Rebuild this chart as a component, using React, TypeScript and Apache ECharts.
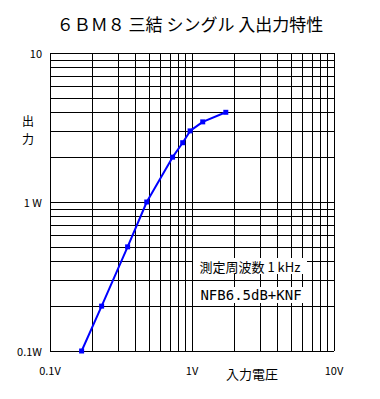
import React, { useEffect, useRef } from "react";
import * as echarts from "echarts";

const inputVolts = [0.167, 0.231, 0.352, 0.48, 0.73, 0.86, 0.97, 1.19, 1.73];
const outputWatts = [0.1, 0.2, 0.5, 1.0, 2.0, 2.5, 3.0, 3.45, 4.0];
const gridValues = [0.1, 0.2, 0.3, 0.4, 0.5, 0.6, 0.7, 0.8, 0.9, 1, 2, 3, 4, 5, 6, 7, 8, 9, 10];
const xTickLabels: Record<string, string> = { "0.1": "0.1V", "1": "1V", "10": "10V" };
const yTickLabels: Record<string, string> = { "0.1": "0.1W", "1": "1 W", "10": "10" };
const titleText = "６ＢＭ８ 三結 シングル 入出力特性";
const xName = "入力電圧";
const yNameChars = ["出", "力"];
const note1 = "測定周波数 1 kHz";
const note2 = "NFB6.5dB+KNF";

const FONT = '"Noto Sans CJK JP", "Noto Sans", sans-serif';

export default function App() {
  const ref = useRef<HTMLDivElement>(null);
  useEffect(() => {
    if (!ref.current) return;
    const chart = echarts.init(ref.current, null, { renderer: "svg" });
    const lineStyle = { color: "#000", width: 1, type: "solid" as const };
    chart.setOption({
      animation: false,
      backgroundColor: "#fff",
      textStyle: { fontFamily: FONT },
      title: {
        text: titleText,
        left: "center",
        top: 10,
        textStyle: { fontSize: 17, fontWeight: "normal", color: "#000", fontFamily: FONT },
      },
      grid: { left: 50, top: 53, right: 46, bottom: 48 },
      xAxis: {
        type: "log",
        logBase: 10,
        min: 0.1,
        max: 10,
        axisLine: { show: false },
        axisTick: { show: false },
        splitLine: { show: false },
        axisLabel: {
          margin: 13,
          fontSize: 11,
          color: "#000",
          fontFamily: FONT,
          formatter: (v: number) => xTickLabels[String(+v.toPrecision(3))] ?? "",
        },
      },
      yAxis: {
        type: "log",
        logBase: 10,
        min: 0.1,
        max: 10,
        axisLine: { show: false },
        axisTick: { show: false },
        splitLine: { show: false },
        axisLabel: {
          margin: 8,
          fontSize: 11,
          color: "#000",
          fontFamily: FONT,
          formatter: (v: number) => yTickLabels[String(+v.toPrecision(3))] ?? "",
        },
      },
      series: [
        {
          type: "line",
          data: [[1, 1]],
          symbol: "none",
          lineStyle: { opacity: 0 },
          silent: true,
          z: 1,
          markLine: {
            silent: true,
            symbol: ["none", "none"],
            label: { show: false },
            lineStyle,
            data: [
              ...gridValues.map((v) => ({ xAxis: v })),
              ...gridValues.map((v) => ({ yAxis: v })),
            ],
          },
        },
        {
          type: "line",
          data: inputVolts.map((x, i) => [x, outputWatts[i]]),
          symbol: "rect",
          symbolSize: 5,
          itemStyle: { color: "#0000ff" },
          lineStyle: { color: "#0000ff", width: 2 },
          z: 5,
        },
      ],
      graphic: [
        {
          type: "text",
          z: 100,
          style: { text: xName, x: 252, y: 373, align: "center", verticalAlign: "middle", fill: "#000", font: `13px ${FONT}` },
        },
        ...yNameChars.map((c, i) => ({
          type: "text",
          z: 100,
          style: { text: c, x: 28, y: 120 + i * 18, align: "center", verticalAlign: "middle", fill: "#000", font: `12px ${FONT}` },
        })),
        { type: "rect", z: 100, shape: { x: 193, y: 258, width: 114, height: 16 }, style: { fill: "#fff" } },
        {
          type: "text",
          z: 101,
          style: { text: note1, x: 250, y: 266, align: "center", verticalAlign: "middle", fill: "#000", font: `13px ${FONT}` },
        },
        { type: "rect", z: 100, shape: { x: 193, y: 287, width: 115, height: 16 }, style: { fill: "#fff" } },
        {
          type: "text",
          z: 101,
          style: { text: note2, x: 251, y: 295, align: "center", verticalAlign: "middle", fill: "#000", font: `14px "DejaVu Sans Mono", ${FONT}` },
        },
      ],
    });
    return () => chart.dispose();
  }, []);
  return <div ref={ref} style={{ width: 380, height: 399, position: "absolute", left: 0, top: 0 }} />;
}
